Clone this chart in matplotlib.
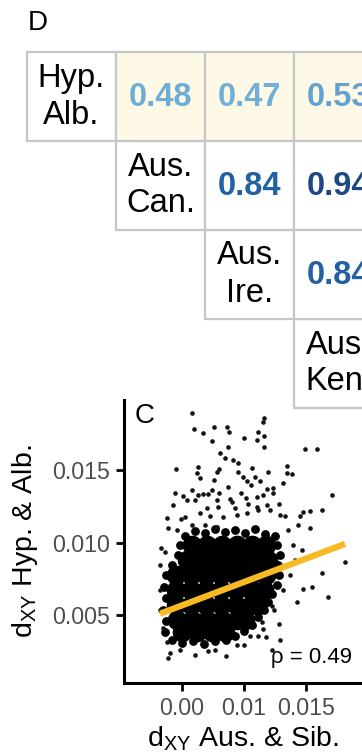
import numpy as np
import matplotlib
matplotlib.use('Agg')
import matplotlib.pyplot as plt
from matplotlib.patches import Rectangle
from matplotlib.colors import LinearSegmentedColormap

plt.rcParams['font.family'] = ['Liberation Sans', 'DejaVu Sans']

# ---- panel D: correlation table (upper triangle, cut at right edge)
pop_labels = ['Hyp.\nAlb.', 'Aus.\nCan.', 'Aus.\nIre.', 'Aus.\nKen.']
corr_rows = [
    [0.48, 0.47, 0.53],
    [0.84, 0.94],
    [0.84],
]

# ---- panel C: dxy values (units of 1e-3)
# sparse points around the cloud
sib_x = [5.81, 5.97, 6.69, 7.58, 8.63, 8.79, 11.61, 11.53, 11.13, 11.61,
         10.00, 11.05, 7.42, 8.71, 11.61, 14.92, 15.89, 8.06, 8.47, 9.11,
         9.52, 4.52, 6.29, 6.21, 7.98, 7.82, 9.52, 10.65, 11.94, 13.47,
         13.47, 13.87, 6.45, 7.58, 9.92, 10.89, 10.24, 11.29, 13.15, 8.71,
         10.56, 11.85, 12.34, 4.44, 5.08, 5.81, 6.29, 6.69, 7.10, 7.42,
         7.98, 8.87, 9.76, 10.16, 11.05, 11.53, 12.34, 17.10, 4.27, 5.40,
         6.05, 7.82, 9.03, 7.02, 7.90, 9.27, 10.32, 11.05, 11.85, 12.82,
         11.13, 12.10, 15.32, 14.76, 16.29, 3.79, 4.92, 5.24, 6.45, 7.26,
         8.31, 9.44, 10.24, 12.90, 13.31, 14.52, 3.87, 4.60, 5.81, 6.85,
         7.82, 14.35, 15.32, 3.63, 14.68, 15.56, 18.15, 16.29, 14.76, 15.48,
         16.77, 14.27, 12.42, 12.82, 11.53, 11.13, 11.77, 12.90, 12.26, 9.44,
         10.00, 4.03, 3.87, 6.05, 7.10, 8.55, 3.23, 3.23, 3.47, 3.79,
         4.84, 7.66, 10.48, 11.45, 12.26, 13.15, 13.71, 14.11, 13.95, 13.55,
         3.23, 3.31]
alb_y = [18.93, 17.83, 17.55, 17.97, 17.97, 17.62, 18.59, 18.31, 17.62, 17.34,
         17.21, 17.07, 17.00, 16.59, 16.59, 16.45, 16.45, 16.17, 15.83, 15.69,
         15.48, 15.07, 15.21, 14.79, 15.07, 14.86, 14.86, 15.14, 14.86, 15.28,
         14.79, 14.72, 14.45, 14.31, 14.52, 14.52, 14.24, 14.24, 14.10, 13.83,
         13.97, 13.69, 13.76, 13.41, 13.21, 13.62, 13.28, 13.34, 13.34, 13.62,
         13.41, 13.00, 13.41, 13.07, 13.14, 13.28, 13.41, 13.28, 12.59, 12.93,
         12.93, 12.93, 12.79, 12.38, 12.45, 12.38, 12.66, 12.45, 12.59, 12.66,
         12.24, 12.24, 12.17, 12.10, 12.24, 11.69, 11.62, 11.76, 12.03, 11.83,
         11.76, 11.90, 12.03, 11.90, 11.83, 11.83, 11.00, 10.86, 11.21, 11.21,
         11.07, 11.21, 11.00, 9.34, 9.48, 9.14, 8.66, 7.90, 6.79, 6.93,
         6.24, 5.90, 5.34, 4.38, 4.03, 3.55, 3.48, 3.28, 2.59, 2.93,
         2.93, 2.38, 2.03, 2.24, 2.52, 2.17, 6.72, 5.34, 4.10, 3.14,
         2.59, 2.59, 3.55, 4.52, 5.62, 6.72, 7.76, 8.79, 9.83, 10.86,
         8.45, 9.62]

# edge of the dense cloud
rim_x = [5.24, 6.05, 6.85, 7.66, 8.47, 9.27, 10.08, 10.89, 11.69, 12.50,
         4.84, 4.68, 4.19, 3.71, 3.55, 3.71, 3.47, 3.71, 3.63, 4.19,
         5.00, 5.89, 6.77, 7.66, 8.55, 9.27, 10.00, 10.65, 11.13, 11.61,
         11.94, 12.26, 12.66, 12.82, 12.74, 12.90, 12.66]
rim_y = [10.45, 10.79, 10.66, 10.93, 10.72, 10.86, 10.66, 10.93, 10.59, 10.45,
         9.83, 9.14, 8.45, 7.76, 6.93, 6.17, 5.34, 4.59, 3.83, 3.28,
         3.07, 3.21, 3.00, 3.21, 3.28, 3.55, 3.90, 4.31, 4.86, 5.34,
         5.90, 6.45, 7.07, 7.76, 8.45, 9.14, 9.83]

# inside of the dense cloud
core_x = [5.81, 7.02, 8.23, 9.44, 10.65, 11.77,
          5.40, 6.61, 7.82, 9.03, 10.24, 11.45, 11.94,
          4.52, 5.73, 6.94, 8.15, 9.35, 10.56, 11.77,
          4.52, 5.73, 6.94, 8.15, 9.35, 10.56, 11.61,
          4.52, 5.73, 6.94, 8.15, 9.35, 10.56, 11.13,
          4.60, 5.81, 7.02, 8.23, 9.44, 10.08,
          5.00, 6.21, 7.42, 8.47]
core_y = [9.83] * 6 + [8.79] * 7 + [7.76] * 7 + [6.72] * 7 + \
         [5.69] * 7 + [4.66] * 6 + [3.83] * 4

fit_intercept = 4.05
fit_slope = 0.3225
rho = 0.49

fig = plt.figure(figsize=(3.62, 7.56), dpi=100)

# ---- scatter (panel C)
ax = fig.add_axes([124 / 362, 73 / 756, 238 / 362, 283 / 756], zorder=1)
ax.scatter(core_x, core_y, s=200, color='black', linewidths=0, zorder=2)
ax.scatter(rim_x, rim_y, s=40, color='black', linewidths=0, zorder=2)
ax.scatter(sib_x, alb_y, s=11, color='#141414', linewidths=0, zorder=2)
xs = np.array([min(sib_x), max(sib_x)])
ax.plot(xs, fit_intercept + fit_slope * xs, color='#F7B924', lw=4.5,
        solid_capstyle='butt', zorder=3)
ax.text(0.958, 0.07, f'ρ = {rho:.2f}', transform=ax.transAxes,
        ha='right', va='baseline', fontsize=16)
ax.text(0.045, 0.988, 'C', transform=ax.transAxes, ha='left', va='top', fontsize=20)

ax.set_xlim(0.32, 19.52)
ax.set_ylim(0.31, 19.83)
ax.set_xticks([5, 10, 15])
ax.set_xticklabels(['0.00', '0.01', '0.015'])
ax.set_yticks([5, 10, 15])
ax.set_yticklabels(['0.005', '0.010', '0.015'])
ax.tick_params(labelsize=16.7, labelcolor='#4d4d4d', length=6, width=2, pad=4)
for s in ['top', 'right']:
    ax.spines[s].set_visible(False)
for s in ['left', 'bottom']:
    ax.spines[s].set_linewidth(2.2)
ax.set_xlabel(r'd$_{\mathregular{XY}}$ Aus. & Sib.', fontsize=20.5, labelpad=3)
ax.set_ylabel(r'd$_{\mathregular{XY}}$ Hyp. & Alb.', fontsize=20.5, labelpad=9)

# ---- table (panel D), drawn in pixel space
tab = fig.add_axes([0, 0, 1, 1], zorder=5)
tab.set_xlim(0, 362)
tab.set_ylim(756, 0)
tab.axis('off')
tab.patch.set_alpha(0)

X0, Y0, CELL = 27, 52, 89
edge = '#c6c6c6'
val_cmap = LinearSegmentedColormap.from_list(
    'vals', [(0.0, '#74b3da'), (0.7, '#2262a6'), (1.0, '#1a3a6e')])

tab.text(28, 23, 'D', fontsize=20, ha='left', va='center')
for i, lab in enumerate(pop_labels):
    x, y = X0 + i * CELL, Y0 + i * CELL
    tab.add_patch(Rectangle((x, y), CELL, CELL, facecolor='white', edgecolor=edge, lw=1.6))
    tab.text(x + CELL / 2, y + CELL / 2, lab, fontsize=23.5, ha='center', va='center',
             linespacing=1.25)
for r, row in enumerate(corr_rows):
    for k, v in enumerate(row):
        c = r + 1 + k
        x, y = X0 + c * CELL, Y0 + r * CELL
        fc = '#fef9e6' if r == 0 else 'white'
        tab.add_patch(Rectangle((x, y), CELL, CELL, facecolor=fc, edgecolor=edge, lw=1.6))
        tab.text(x + CELL / 2, y + CELL / 2 + 1, f'{v:.2f}', fontsize=23.5, fontweight='bold',
                 ha='center', va='center', color=val_cmap((v - 0.45) / 0.55))

fig.savefig('out.png', dpi=100)
